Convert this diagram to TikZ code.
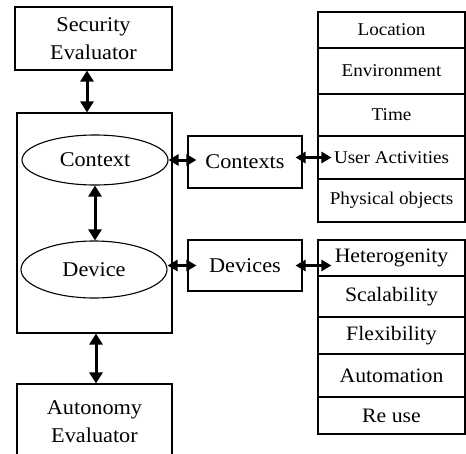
\documentclass[tikz,border=0pt]{standalone}
\usepackage{fontspec}
\setmainfont{Liberation Serif}[FakeStretch=1.06]
\usetikzlibrary{arrows.meta,shapes.geometric}
\tikzset{
 box/.style={draw, line width=1.1pt, inner sep=0pt, align=center},
 oval/.style={ellipse, draw, line width=1.1pt, inner sep=0pt},
 big/.style={font=\fontsize{21}{28}\selectfont},
 lsta/.style={box, font=\fontsize{18}{22}\selectfont, minimum width=147pt},
 lstb/.style={box, font=\fontsize{20.5}{24}\selectfont, minimum width=147pt},
 dbl/.style={line width=3pt, {Triangle[length=11pt,width=13pt]}-{Triangle[length=11pt,width=13pt]}},
 dbls/.style={line width=3pt, {Triangle[length=10pt,width=11pt]}-{Triangle[length=10pt,width=11pt]}},
}
\begin{document}
\begin{tikzpicture}[x=1pt,y=-1pt]
\useasboundingbox (0,0) rectangle (466,453);
\node[box,big,minimum width=157pt,minimum height=63pt] (sec) at (93.5,38.5) {Security\\Evaluator};
\node[box,minimum width=155pt,minimum height=220pt] (main) at (94.5,223) {};
\node[oval,big,minimum width=146pt,minimum height=50pt] (ctx) at (95,160) {Context};
\node[oval,big,minimum width=146pt,minimum height=57pt] (dev) at (94,269.5) {Device};
\node[box,big,minimum width=155pt,minimum height=76pt] (aut) at (94.5,422) {Autonomy\\Evaluator};
\node[box,big,minimum width=114pt,minimum height=52pt] (ctxs) at (245,162) {Contexts};
\node[box,big,minimum width=114pt,minimum height=51pt] (devs) at (245,265.5) {Devices};
\node[lsta,minimum height=36pt] (loc) at (391.5,30) {Location};
\node[lsta,minimum height=46pt] (env) at (391.5,71) {Environment};
\node[lsta,minimum height=42pt] (tim) at (391.5,115) {Time};
\node[lsta,minimum height=43pt] (ua) at (391.5,157.5) {User Activities};
\node[lsta,minimum height=43pt] (po) at (391.5,200.5) {Physical objects};
\node[lstb,minimum height=36pt] (het) at (391.5,258) {Heterogenity};
\node[lstb,minimum height=41pt] (sca) at (391.5,296.5) {Scalability};
\node[lstb,minimum height=37pt] (fle) at (391.5,335.5) {Flexibility};
\node[lstb,minimum height=43pt] (aum) at (391.5,375.5) {Automation};
\node[lstb,minimum height=37pt] (reu) at (391.5,415.5) {Re use};
\draw[dbl] ([xshift=-6.5pt]sec.south) -- ([xshift=-6.5pt]sec.south |- main.north);
\draw[dbl] (ctx.south) -- (ctx.south |- dev.north);
\draw[dbl] ([xshift=1.5pt]main.south) -- ([xshift=1.5pt]main.south |- aut.north);
\draw[dbls] (ctx.east) -- ([xshift=9pt]ctx.east -| ctxs.west);
\draw[dbls] ([xshift=-7pt]ua.west -| ctxs.east) -- ([xshift=14pt]ua.west);
\draw[dbls] (devs.west -| dev.east) -- ([xshift=9pt]devs.west);
\draw[dbls] ([xshift=-7pt]devs.east) -- ([xshift=14pt]devs.east -| het.west);
\end{tikzpicture}
\end{document}
